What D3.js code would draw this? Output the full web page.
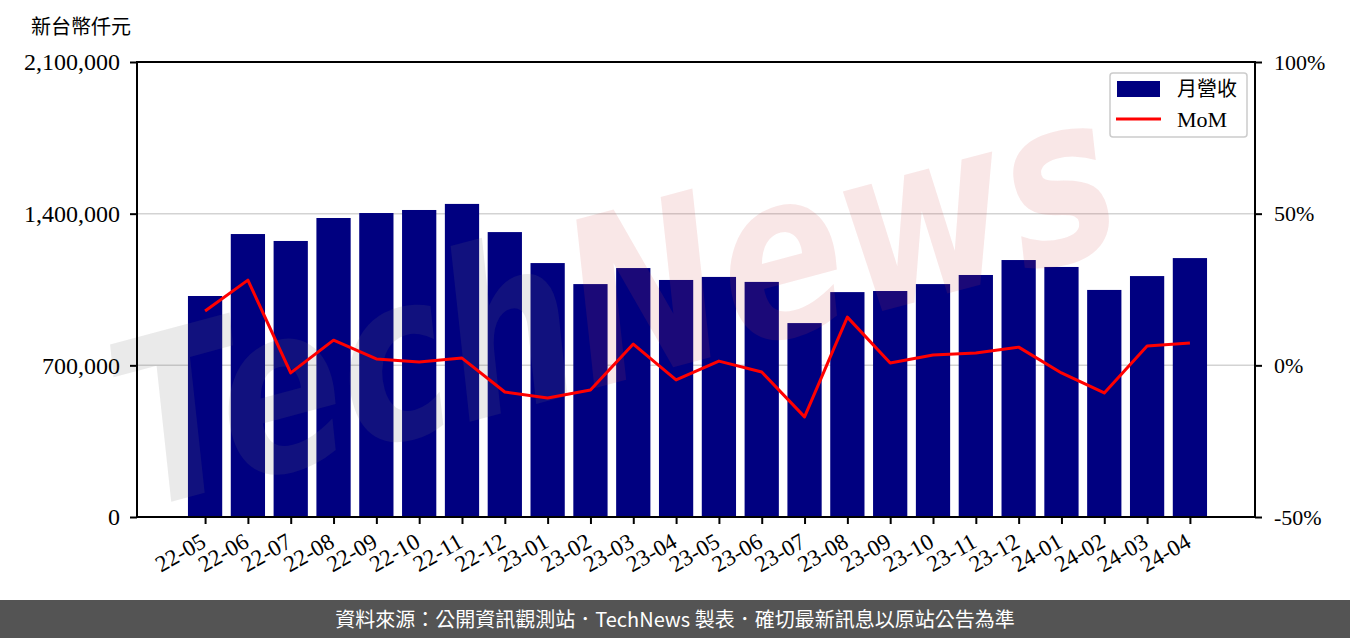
<!DOCTYPE html>
<html>
<head>
<meta charset="utf-8">
<script src="https://cdn.jsdelivr.net/npm/d3@7"></script>
<style>
  body { margin: 0; background: #fff; }
  #chart { width: 1350px; height: 638px; }
  .tick text { font-family: "Liberation Serif", "DejaVu Serif", serif; fill: #000; }
</style>
</head>
<body>
<div id="chart"></div>
<script>
//Datos
const months = ['22-05','22-06','22-07','22-08','22-09','22-10','22-11','22-12','23-01','23-02','23-03','23-04',
  '23-05','23-06','23-07','23-08','23-09','23-10','23-11','23-12','24-01','24-02','24-03','24-04'];
const revenue = [1020000,1306000,1274000,1380000,1403000,1417000,1445000,1315000,1172000,1075000,1149000,1094000,
  1108000,1085000,895000,1038000,1043000,1075000,1117000,1186000,1154000,1048000,1112000,1195000];
const mom = [17.9,28.1,-2.5,8.3,2.1,1.1,2.4,-8.8,-10.8,-8.1,7.0,-4.8,
  1.4,-2.2,-17.0,15.9,0.8,3.4,4.1,6.0,-2.5,-9.1,6.4,7.4];
const leftTicks = [0, 700000, 1400000, 2100000];
const rightTicks = [-50, 0, 50, 100];

const W = 1350, H = 638;
const margin = {top: 62, right: 95, bottom: 121, left: 137};
const width = W - margin.left - margin.right,
      height = H - margin.top - margin.bottom;

const root = d3.select('#chart').append('svg')
  .attr('width', W).attr('height', H);

const svg = root.append('g')
  .attr('transform', 'translate(' + margin.left + ',' + margin.top + ')');

// Escalas
let x = d3.scaleLinear()
  .domain([-1.59, months.length - 1 + 1.52])
  .range([0, width]);
let step = x(1) - x(0);
let barW = step * 0.8;

let y = d3.scaleLinear().domain([0, 2100000]).range([height, 0]);
let y2 = d3.scaleLinear().domain([-50, 100]).range([height, 0]);

// Grid
svg.append('g')
  .selectAll('line')
  .data(leftTicks.slice(1, 3))
  .enter().append('line')
  .attr('x1', 0).attr('x2', width)
  .attr('y1', d => y(d)).attr('y2', d => y(d))
  .attr('stroke', '#d3d3d3').attr('stroke-width', 1.5);

// Barras
svg.selectAll('.bar')
  .data(revenue)
  .enter().append('rect')
  .attr('class', 'bar')
  .attr('x', (d, i) => x(i) - barW / 2)
  .attr('y', d => y(d))
  .attr('width', barW)
  .attr('height', d => height - y(d))
  .attr('fill', '#000080');

// Marca de agua
let wm = svg.append('text')
  .attr('transform', 'translate(' + (140 - margin.left) + ',' + (510 - margin.top) + ') rotate(-15) scale(0.8,1)')
  .attr('font-family', 'DejaVu Sans, sans-serif')
  .attr('font-style', 'italic')
  .attr('font-weight', 'bold')
  .attr('font-size', 230);
wm.append('tspan').attr('fill', '#707070').attr('fill-opacity', 0.15).text('Tech');
wm.append('tspan').attr('fill', '#d04848').attr('fill-opacity', 0.13).text('News');

// Línea MoM
svg.append('path')
  .datum(mom)
  .attr('fill', 'none')
  .attr('stroke', '#ff0000')
  .attr('stroke-width', 3)
  .attr('stroke-linejoin', 'round')
  .attr('d', d3.line().x((d, i) => x(i)).y(d => y2(d)));

// Ejes
let yAxis = svg.append('g')
  .call(d3.axisLeft(y).tickValues(leftTicks).tickFormat(d3.format(',')).tickSize(7).tickPadding(10));
let y2Axis = svg.append('g')
  .attr('transform', 'translate(' + width + ',0)')
  .call(d3.axisRight(y2).tickValues(rightTicks).tickFormat(d => d + '%').tickSize(7).tickPadding(12));
let xAxis = svg.append('g')
  .attr('transform', 'translate(0,' + height + ')')
  .call(d3.axisBottom(x).tickValues(d3.range(months.length)).tickFormat(i => months[i]).tickSize(7));

[yAxis, y2Axis, xAxis].forEach(a => {
  a.select('.domain').remove();
  a.selectAll('.tick line').attr('stroke', '#000').attr('stroke-width', 2);
});
yAxis.selectAll('.tick text').attr('font-size', 24);
y2Axis.selectAll('.tick text').attr('font-size', 22);
xAxis.selectAll('.tick text')
  .attr('font-size', 23)
  .attr('text-anchor', 'end')
  .attr('y', 0)
  .attr('dy', 0)
  .attr('transform', 'translate(2,29) rotate(-30)');

// Marco
svg.append('rect')
  .attr('width', width).attr('height', height)
  .attr('fill', 'none').attr('stroke', '#000').attr('stroke-width', 2);

// Unidad
root.append('text')
  .attr('x', 31).attr('y', 34)
  .attr('lang', 'zh-TW')
  .attr('font-family', '"Noto Sans CJK TC", sans-serif')
  .attr('font-size', 20)
  .text('新台幣仟元');

// Leyenda
let lg = root.append('g').attr('transform', 'translate(1110,73)');
lg.append('rect')
  .attr('width', 137).attr('height', 64).attr('rx', 3)
  .attr('fill', '#fff').attr('fill-opacity', 0.85)
  .attr('stroke', '#cccccc').attr('stroke-width', 1.5);
lg.append('rect').attr('x', 7).attr('y', 8).attr('width', 43).attr('height', 16).attr('fill', '#000080');
lg.append('line').attr('x1', 6).attr('x2', 51).attr('y1', 46).attr('y2', 46)
  .attr('stroke', '#ff0000').attr('stroke-width', 3);
lg.append('text').attr('x', 67).attr('y', 23)
  .attr('lang', 'zh-TW')
  .attr('font-family', '"Noto Sans CJK TC", sans-serif').attr('font-size', 20).text('月營收');
lg.append('text').attr('x', 67).attr('y', 54)
  .attr('font-family', '"Liberation Serif", serif').attr('font-size', 22).text('MoM');

// Pie
root.append('rect')
  .attr('x', 0).attr('y', 600).attr('width', W).attr('height', 38)
  .attr('fill', '#545454');
root.append('text')
  .attr('x', W / 2).attr('y', 627)
  .attr('text-anchor', 'middle')
  .attr('lang', 'zh-TW')
  .attr('fill', '#fff')
  .attr('font-family', '"Noto Sans CJK TC", sans-serif')
  .attr('font-size', 20)
  .text('資料來源：公開資訊觀測站．TechNews 製表．確切最新訊息以原站公告為準');
</script>
</body>
</html>
